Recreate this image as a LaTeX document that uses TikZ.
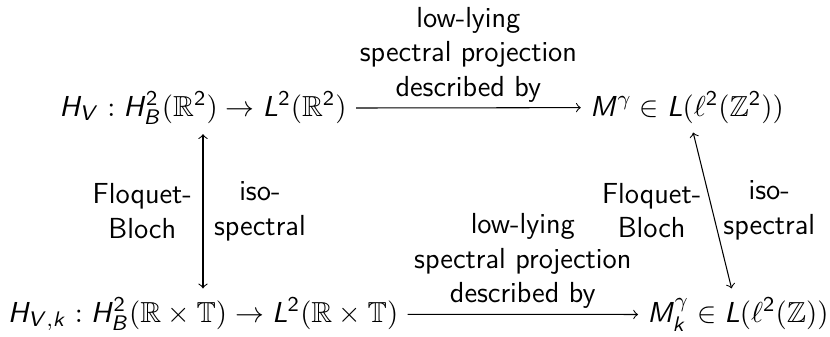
\documentclass[tikz,border=0pt]{standalone}
\usepackage{amssymb}
\usepackage{tikz}

% sans-serif letters and digits in math, as on the slide
\renewcommand{\familydefault}{\sfdefault}
\DeclareSymbolFont{sfletters}{OT1}{cmss}{m}{it}
\DeclareSymbolFont{sfdigits}{OT1}{cmss}{m}{n}
\DeclareMathSymbol{H}{\mathalpha}{sfletters}{`H}
\DeclareMathSymbol{V}{\mathalpha}{sfletters}{`V}
\DeclareMathSymbol{B}{\mathalpha}{sfletters}{`B}
\DeclareMathSymbol{L}{\mathalpha}{sfletters}{`L}
\DeclareMathSymbol{M}{\mathalpha}{sfletters}{`M}
\DeclareMathSymbol{k}{\mathalpha}{sfletters}{`k}
\DeclareMathSymbol{2}{\mathalpha}{sfdigits}{`2}

\begin{document}
\begin{tikzpicture}[x=0.01333cm, y=-0.01333cm, font=\fontsize{11}{13.1}\selectfont,
		space/.style={anchor=base},
		lbl/.style={align=center, inner sep=2pt},
		side/.style={align=center, inner sep=4pt},
		map/.style={->, >=to}]
		\useasboundingbox (0,0) rectangle (830,336);
		
		% the four spaces
		\node[space] (HV) at (203,116) {$H_V : H^2_B(\mathbb{R}^2) \to L^2(\mathbb{R}^2)$};
		\node[space] (M) at (687,116) {$M^\gamma \in L(\ell^2(\mathbb{Z}^2))$};
		\node[space] (HVk) at (203,322) {$H_{V,k} : H^2_B(\mathbb{R}\times\mathbb{T}) \to L^2(\mathbb{R}\times\mathbb{T})$};
		\node[space] (Mk) at (738,322) {$M^\gamma_k \in L(\ell^2(\mathbb{Z}))$};
		
		% projections
		\draw[map] (HV) -- node[lbl, above] {low-lying\\spectral projection\\described by} (M);
		\draw[map] (HVk) -- node[lbl, above] {low-lying\\spectral projection\\described by} (Mk);
		
		% Floquet-Bloch
		\draw[<->, >=to] (HV) -- node[side, left] {Floquet-\\Bloch} node[side, right] {iso-\\spectral} (HVk);
		\draw[<->, >=to] (M) -- node[side, left] {Floquet-\\Bloch} node[side, right] {iso-\\spectral} (Mk);
	\end{tikzpicture}
\end{document}
